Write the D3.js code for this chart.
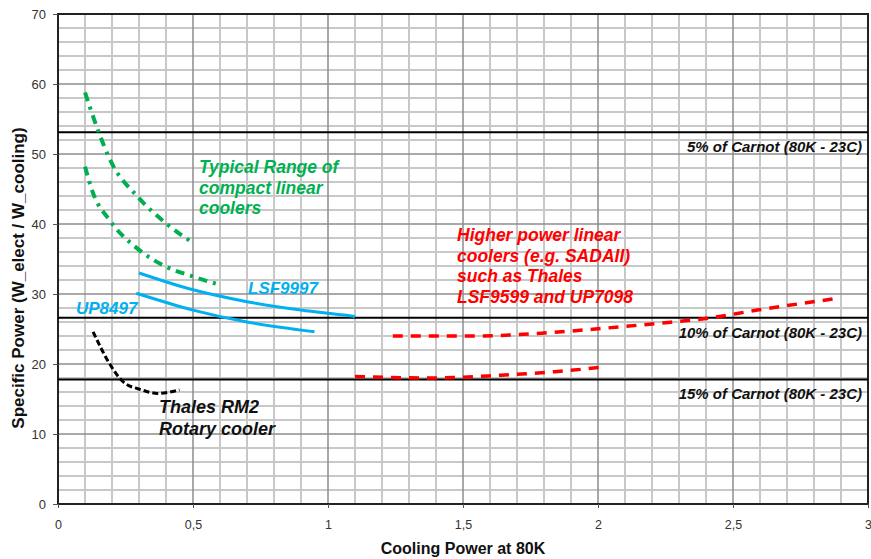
<!DOCTYPE html>
<html>
<head>
<meta charset="utf-8">
<script src="https://cdn.jsdelivr.net/npm/d3@7"></script>
<style>
  body { margin: 0; background: #fff; }
  svg { display: block; font-family: Arial, "Liberation Sans", sans-serif; }
</style>
</head>
<body>
<svg id="chart" width="871" height="559"></svg>
<script>
// series, [cooling power, specific power]
const greenUpper = [[0.10, 58.8], [0.15, 53.2], [0.19, 49.4], [0.30, 43.7], [0.40, 40.1], [0.50, 37.3]];
const greenLower = [[0.10, 48.2], [0.13, 44.4], [0.19, 40.6], [0.30, 36.3], [0.40, 33.9], [0.50, 32.5], [0.60, 31.3]];
const lsf9997 = [[0.30, 33.0], [0.50, 30.6], [0.70, 28.9], [0.90, 27.7], [1.10, 26.8]];
const up8497 = [[0.29, 30.1], [0.50, 27.7], [0.70, 26.0], [0.95, 24.6]];
const rm2 = [[0.13, 24.6], [0.19, 20.1], [0.24, 17.5], [0.31, 16.3], [0.37, 15.8], [0.45, 16.3]];
const redUpper = [[1.24, 24.0], [1.54, 24.0], [1.79, 24.4], [1.99, 25.0], [2.22, 25.8], [2.40, 26.5], [2.59, 27.7], [2.89, 29.4]];
const redLower = [[1.10, 18.2], [1.39, 18.0], [1.64, 18.4], [1.84, 18.9], [2.03, 19.6]];

const carnotLevels = [53.1, 26.6, 17.8];
const carnotLabels = ["5% of Carnot (80K - 23C)", "10% of Carnot (80K - 23C)", "15% of Carnot (80K - 23C)"];
const xTicks = [0, 0.5, 1, 1.5, 2, 2.5, 3];
const yTicks = [0, 10, 20, 30, 40, 50, 60, 70];

const margin = {top: 14, right: 3, bottom: 55, left: 58},
  width = 871 - margin.left - margin.right,
  height = 559 - margin.top - margin.bottom;

const svg = d3.select("#chart");
const g = svg.append("g").attr("transform", `translate(${margin.left},${margin.top})`);

const x = d3.scaleLinear().domain([0, 3]).range([0, width]);
const y = d3.scaleLinear().domain([0, 70]).range([height, 0]);

// minor grid
g.append("g").selectAll("line")
  .data(d3.range(0, 3.001, 0.1).filter(v => Math.abs(v * 2 - Math.round(v * 2)) > 1e-6))
  .join("line")
  .attr("x1", d => x(d)).attr("x2", d => x(d))
  .attr("y1", 0).attr("y2", height)
  .attr("stroke", "#c8c8c8").attr("stroke-width", 2);
g.append("g").selectAll("line")
  .data(d3.range(2, 70, 2).filter(v => v % 10 !== 0))
  .join("line")
  .attr("x1", 0).attr("x2", width)
  .attr("y1", d => y(d)).attr("y2", d => y(d))
  .attr("stroke", "#c8c8c8").attr("stroke-width", 2);

// major grid
g.append("g").selectAll("line")
  .data(xTicks.slice(1, -1))
  .join("line")
  .attr("x1", d => x(d)).attr("x2", d => x(d))
  .attr("y1", 0).attr("y2", height)
  .attr("stroke", "#8c8c8c").attr("stroke-width", 1.5);
g.append("g").selectAll("line")
  .data(yTicks.slice(1, -1))
  .join("line")
  .attr("x1", 0).attr("x2", width)
  .attr("y1", d => y(d)).attr("y2", d => y(d))
  .attr("stroke", "#8c8c8c").attr("stroke-width", 1.5);

// frame
g.append("rect")
  .attr("x", 0).attr("y", 0).attr("width", width).attr("height", height)
  .attr("fill", "none").attr("stroke", "#222").attr("stroke-width", 2);

// carnot reference lines
g.append("g").selectAll("line")
  .data(carnotLevels)
  .join("line")
  .attr("x1", 0).attr("x2", width)
  .attr("y1", d => y(d)).attr("y2", d => y(d))
  .attr("stroke", "#000").attr("stroke-width", 2);
g.append("g").selectAll("text")
  .data(carnotLevels)
  .join("text")
  .attr("x", width - 6)
  .attr("y", d => y(d) + 20)
  .attr("text-anchor", "end")
  .attr("font-size", 15).attr("font-weight", "bold").attr("font-style", "italic")
  .attr("fill", "#111")
  .text((d, i) => carnotLabels[i]);

// axes
const xAxis = d3.axisBottom(x).tickValues(xTicks).tickSize(4)
  .tickFormat(d => String(d).replace(".", ","));
const gx = g.append("g").attr("transform", `translate(0,${height})`).call(xAxis);
gx.select(".domain").remove();
gx.selectAll("text").attr("font-size", 12.5).attr("fill", "#333").attr("dy", "1.45em")
  .attr("font-family", "'Liberation Sans Narrow', Arial, sans-serif");
gx.selectAll("line").attr("stroke", "#555");

const yAxis = d3.axisLeft(y).tickValues(yTicks).tickSize(5);
const gy = g.append("g").call(yAxis);
gy.select(".domain").remove();
gy.selectAll("text").attr("font-size", 13).attr("fill", "#333").attr("x", -12);
gy.selectAll("line").attr("stroke", "#555");

svg.append("text")
  .attr("x", margin.left + width / 2).attr("y", 554)
  .attr("text-anchor", "middle")
  .attr("font-size", 16).attr("font-weight", "bold").attr("fill", "#111")
  .text("Cooling Power at 80K");
svg.append("text")
  .attr("transform", "translate(24,278) rotate(-90)")
  .attr("text-anchor", "middle")
  .attr("font-size", 17).attr("font-weight", "bold").attr("fill", "#111")
  .text("Specific Power (W_elect / W_cooling)");

// curves
const line = d3.line().x(d => x(d[0])).y(d => y(d[1])).curve(d3.curveMonotoneX);
const curves = [
  {data: greenUpper, color: "#00b050", w: 4, dash: "9,6,3,6"},
  {data: greenLower, color: "#00b050", w: 4, dash: "9,6,3,6"},
  {data: lsf9997, color: "#00b0f0", w: 3, dash: null},
  {data: up8497, color: "#00b0f0", w: 3, dash: null},
  {data: rm2, color: "#000", w: 3, dash: "6,3"},
  {data: redUpper, color: "#ff0000", w: 3.5, dash: "10,8"},
  {data: redLower, color: "#ff0000", w: 3.5, dash: "10,8"}
];
g.append("g").selectAll("path")
  .data(curves)
  .join("path")
  .attr("d", d => line(d.data))
  .attr("fill", "none")
  .attr("stroke", d => d.color)
  .attr("stroke-width", d => d.w)
  .attr("stroke-dasharray", d => d.dash);

// annotations
function note(lines, px, py, color, step, size) {
  const t = svg.append("text")
    .attr("font-size", size).attr("font-weight", "bold").attr("font-style", "italic")
    .attr("fill", color);
  lines.forEach((s, i) => t.append("tspan").attr("x", px).attr("y", py + i * step).text(s));
}
note(["Typical Range of", "compact linear", "coolers"], 199, 173, "#00b050", 20.5, 17.5);
note(["Higher power linear", "coolers (e.g. SADAII)", "such as Thales", "LSF9599 and UP7098"], 457, 241, "#ff0000", 20.7, 17.5);
note(["Thales RM2", "Rotary cooler"], 159, 413, "#111", 22, 18);
note(["LSF9997"], 248, 294, "#00b0f0", 0, 17);
note(["UP8497"], 76, 314, "#00b0f0", 0, 17);
</script>
</body>
</html>
